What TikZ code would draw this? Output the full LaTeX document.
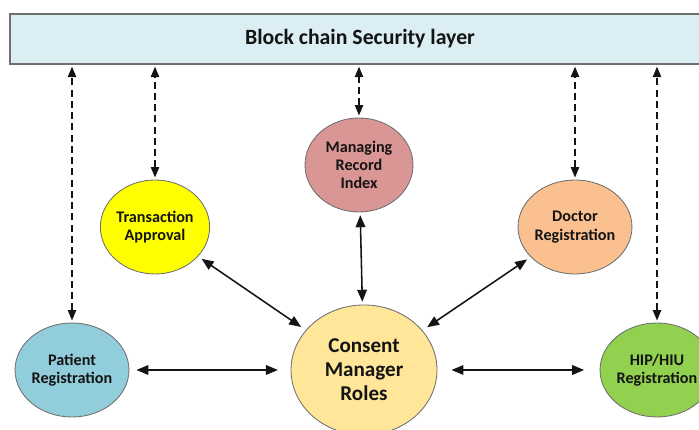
\documentclass[tikz,border=0pt]{standalone}
\usepackage{fontspec}
\setmainfont{Carlito}
\usetikzlibrary{shapes.geometric, arrows.meta, positioning}
\usepackage{xcolor}
\definecolor{chainbg}{RGB}{218, 238, 243}
\definecolor{patientblue}{RGB}{146, 205, 220}
\definecolor{txyellow}{RGB}{255, 255, 0}
\definecolor{recordrose}{RGB}{217, 150, 148}
\definecolor{doctorpeach}{RGB}{250, 192, 144}
\definecolor{hipgreen}{RGB}{146, 208, 80}
\definecolor{consentgold}{RGB}{255, 230, 153}
\definecolor{edgegray}{RGB}{110, 110, 110}
\definecolor{textdark}{RGB}{20, 20, 20}

\begin{document}
\begin{tikzpicture}[
    role/.style={ellipse, draw=edgegray, line width=0.6pt, minimum width=2.7cm, minimum height=2.35cm, inner sep=0pt, align=center, font=\fontsize{11.5}{13}\selectfont\bfseries, text=textdark},
    secure/.style={{Triangle[length=2.6mm, width=2.1mm]}-{Triangle[length=2.6mm, width=2.1mm]}, dashed, dash pattern=on 5pt off 3pt, line width=0.8pt, color=textdark, shorten <=1.5pt, shorten >=1.5pt},
    biarrow/.style={{Triangle[length=3mm, width=2.4mm]}-{Triangle[length=3mm, width=2.4mm]}, line width=1.1pt, color=textdark}
]
\useasboundingbox (0, 0) rectangle (17.475, 10.75);

% Security layer
\node[rectangle, draw=edgegray, fill=chainbg, line width=0.8pt, minimum width=17.5cm, minimum height=1.25cm, font=\fontsize{15.5}{17}\selectfont\bfseries, text=textdark] (chain) at (9.0, 9.775) {Block chain Security layer};

% Roles
\node[role, fill=patientblue] (patient) at (1.8, 1.5) {Patient\\Registration};
\node[role, fill=txyellow] (approval) at (3.875, 5.075) {Transaction\\Approval};
\node[role, fill=recordrose] (record) at (8.975, 6.625) {Managing\\Record\\Index};
\node[role, fill=doctorpeach] (doctor) at (14.375, 5.075) {Doctor\\Registration};
\node[role, fill=hipgreen] (hip) at (16.425, 1.5) {HIP/HIU\\Registration};

% Consent manager
\node[role, fill=consentgold, minimum width=3.65cm, minimum height=3.25cm, font=\fontsize{15}{17}\selectfont\bfseries] (consent) at (9.1, 1.5) {Consent\\Manager\\Roles};

% Links to the security layer
\draw[secure] (patient.north) -- (patient.north |- chain.south);
\draw[secure] (approval.north) -- (approval.north |- chain.south);
\draw[secure] (record.north) -- (record.north |- chain.south);
\draw[secure] (doctor.north) -- (doctor.north |- chain.south);
\draw[secure] (hip.north) -- (hip.north |- chain.south);

% Links to the consent manager
\draw[biarrow, shorten <=2pt, shorten >=2pt] (record) -- (consent);
\draw[biarrow, shorten <=3pt, shorten >=4pt] (approval) -- (consent);
\draw[biarrow, shorten <=3pt, shorten >=4pt] (doctor) -- (consent);
\draw[biarrow, shorten <=5pt, shorten >=9pt] (patient) -- (consent);
\draw[biarrow, shorten <=10pt, shorten >=11pt] (consent) -- (hip);

\end{tikzpicture}
\end{document}
